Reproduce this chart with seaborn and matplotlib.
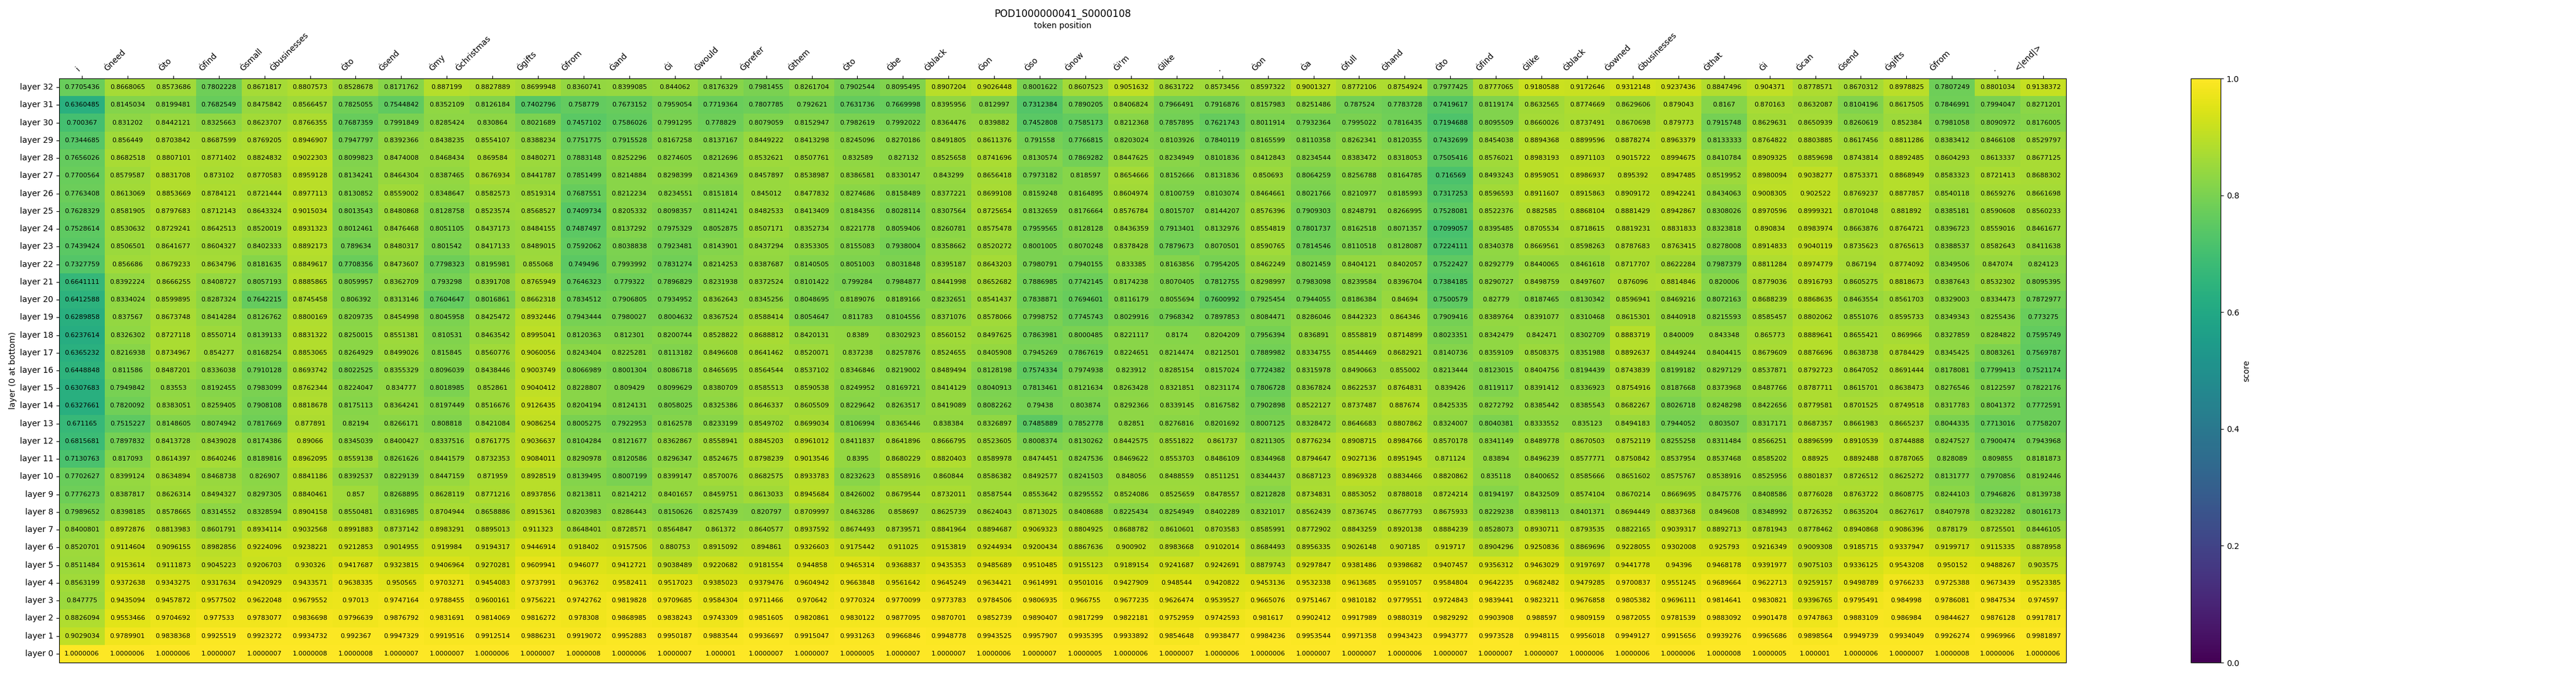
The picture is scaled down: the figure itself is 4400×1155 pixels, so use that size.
import numpy as np
import pandas as pd
import matplotlib
matplotlib.use("Agg")
import matplotlib.pyplot as plt
import seaborn as sns

title = "POD1000000041_S0000108"

tokens = ["i", "Ġneed", "Ġto", "Ġfind", "Ġsmall", "Ġbusinesses", "Ġto", "Ġsend", "Ġmy", "Ġchristmas", "Ġgifts",
          "Ġfrom", "Ġand", "Ġi", "Ġwould", "Ġprefer", "Ġthem", "Ġto", "Ġbe", "Ġblack", "Ġon", "Ġso", "Ġnow",
          "Ġi'm", "Ġlike", ".", "Ġon", "Ġa", "Ġfull", "Ġhand", "Ġto", "Ġfind", "Ġlike", "Ġblack", "Ġowned",
          "Ġbusinesses", "Ġthat", "Ġi", "Ġcan", "Ġsend", "Ġgifts", "Ġfrom", ".", "<|end|>"]

layer_32 = [.7705436, .8668065, .8573686, .7802228, .8671817, .8807573, .8528678, .8171762,
            .887199, .8827889, .8699948, .8360741, .8399085, .844062, .8176329, .7981455,
            .8261704, .7902544, .8095495, .8907204, .9026448, .8001622, .8607523, .9051632, .8631722,
            .8573456, .8597322, .9001327, .8772106, .8754924, .7977425, .8777065, .9180588, .9172646,
            .9312148, .9237436, .8847496, .904371, .8778571, .8670312, .8978825, .7807249, .8801034, .9138372]
layer_31 = [.6360485, .8145034, .8199481, .7682549, .8475842, .8566457, .7825055, .7544842,
            .8352109, .8126184, .7402796, .758779, .7673152, .7959054, .7719364, .7807785,
            .792621, .7631736, .7669998, .8395956, .812997, .7312384, .7890205, .8406824, .7966491,
            .7916876, .8157983, .8251486, .787524, .7783728, .7419617, .8119174, .8632565, .8774669,
            .8629606, .879043, .8167, .870163, .8632087, .8104196, .8617505, .7846991, .7994047, .8271201]
layer_30 = [.700367, .831202, .8442121, .8325663, .8623707, .8766355, .7687359, .7991849,
            .8285424, .830864, .8021689, .7457102, .7586026, .7991295, .778829, .8079059,
            .8152947, .7982619, .7992022, .8364476, .839882, .7452808, .7585173, .8212368, .7857895,
            .7621743, .8011914, .7932364, .7995022, .7816435, .7194688, .8095509, .8660026, .8737491,
            .8670698, .879773, .7915748, .8629631, .8650939, .8260619, .852384, .7981058, .8090972, .8176005]
layer_29 = [.7344685, .856449, .8703842, .8687599, .8769205, .8946907, .7947797, .8392366,
            .8438235, .8554107, .8388234, .7751775, .7915528, .8167258, .8137167, .8449222,
            .8413298, .8245096, .8270186, .8491805, .8611376, .791558, .7766815, .8203024, .8103926,
            .7840119, .8165599, .8110358, .8262341, .8120355, .7432699, .8454038, .8894368, .8899596,
            .8878274, .8963379, .8133333, .8764822, .8803885, .8617456, .8811286, .8383412, .8466108, .8529797]
layer_28 = [.7656026, .8682518, .8807101, .8771402, .8824832, .9022303, .8099823, .8474008,
            .8468434, .869584, .8480271, .7883148, .8252296, .8274605, .8212696, .8532621,
            .8507761, .832589, .827132, .8525658, .8741696, .8130574, .7869282, .8447625, .8234949,
            .8101836, .8412843, .8234544, .8383472, .8318053, .7505416, .8576021, .8983193, .8971103,
            .9015722, .8994675, .8410784, .8909325, .8859698, .8743814, .8892485, .8604293, .8613337, .8677125]
layer_27 = [.7700564, .8579587, .8831708, .873102, .8770583, .8959128, .8134241, .8464304,
            .8387465, .8676934, .8441787, .7851499, .8214884, .8298399, .8214369, .8457897,
            .8538987, .8386581, .8330147, .843299, .8656418, .7973182, .818597, .8654666, .8152666,
            .8131836, .850693, .8064259, .8256788, .8164785, .716569, .8493243, .8959051, .8986937,
            .895392, .8947485, .8519952, .8980094, .9038277, .8753371, .8868949, .8583323, .8721413, .8688302]
layer_26 = [.7763408, .8613069, .8853669, .8784121, .8721444, .8977113, .8130852, .8559002,
            .8348647, .8582573, .8519314, .7687551, .8212234, .8234551, .8151814, .845012,
            .8477832, .8274686, .8158489, .8377221, .8699108, .8159248, .8164895, .8604974, .8100759,
            .8103074, .8464661, .8021766, .8210977, .8185993, .7317253, .8596593, .8911607, .8915863,
            .8909172, .8942241, .8434063, .9008305, .902522, .8769237, .8877857, .8540118, .8659276, .8661698]
layer_25 = [.7628329, .8581905, .8797683, .8712143, .8643324, .9015034, .8013543, .8480868,
            .8128758, .8523574, .8568527, .7409734, .8205332, .8098357, .8114241, .8482533,
            .8413409, .8184356, .8028114, .8307564, .8725654, .8132659, .8176664, .8576784, .8015707,
            .8144207, .8576396, .7909303, .8248791, .8266995, .7528081, .8522376, .882585, .8868104,
            .8881429, .8942867, .8308026, .8970596, .8999321, .8701048, .881892, .8385181, .8590608, .8560233]
layer_24 = [.7528614, .8530632, .8729241, .8642513, .8520019, .8931323, .8012461, .8476468,
            .8051105, .8437173, .8484155, .7487497, .8137292, .7975329, .8052875, .8507171,
            .8352734, .8221778, .8059406, .8260781, .8575478, .7959565, .8128128, .8436359, .7913401,
            .8132976, .8554819, .7801737, .8162518, .8071357, .7099057, .8395485, .8705534, .8718615,
            .8819231, .8831833, .8323818, .890834, .8983974, .8663876, .8764721, .8396723, .8559016, .8461677]
layer_23 = [.7439424, .8506501, .8641677, .8604327, .8402333, .8892173, .789634, .8480317,
            .801542, .8417133, .8489015, .7592062, .8038838, .7923481, .8143901, .8437294, .8353305, .8155083, .7938004, .8358662,
            .8520272, .8001005, .8070248, .8378428, .7879673, .8070501, .8590765, .7814546, .8110518, .8128087, .7224111, .8340378,
            .8669561, .8598263, .8787683, .8763415, .8278008, .8914833, .9040119, .8735623, .8765613, .8388537, .8582643, .8411638]
layer_22 = [.7327759, .856686, .8679233, .8634796, .8181635, .8849617, .7708356, .8473607,
            .7798323, .8195981, .855068, .749496, .7993992, .7831274, .8214253, .8387687, .8140505, .8051003, .8031848, .8395187,
            .8643203, .7980791, .7940155, .833385, .8163856, .7954205, .8462249, .8021459, .8404121, .8402057, .7522427, .8292779,
            .8440065, .8461618, .8717707, .8622284, .7987379, .8811284, .8974779, .867194, .8774092, .8349506, .847074, .824123]
layer_21 = [.6641111, .8392224, .8666255, .8408727, .8057193, .8885865, .8059957, .8362709,
            .793298, .8391708, .8765949, .7646323, .779322, .7896829, .8231938, .8372524, .8101422, .799284, .7984877, .8441998,
            .8652682, .7886985, .7742145, .8174238, .8070405, .7812755, .8298997, .7983098, .8239584, .8396704, .7384185, .8290727,
            .8498759, .8497607, .876096, .8814846, .820006, .8779036, .8916793, .8605275, .8818673, .8387643, .8532302, .8095395]
layer_20 = [.6412588, .8334024, .8599895, .8287324, .7642215, .8745458, .806392, .8313146,
            .7604647, .8016861, .8662318, .7834512, .7906805, .7934952, .8362643, .8345256, .8048695, .8189076, .8189166, .8232651,
            .8541437, .7838871, .7694601, .8116179, .8055694, .7600992, .7925454, .7944055, .8186384, .84694, .7500579, .82779,
            .8187465, .8130342, .8596941, .8469216, .8072163, .8688239, .8868635, .8463554, .8561703, .8329003, .8334473, .7872977]
layer_19 = [.6289858, .837567, .8673748, .8414284, .8126762, .8800169, .8209735, .8454998,
            .8045958, .8425472, .8932446, .7943444, .7980027, .8004632, .8367524, .8588414, .8054647, .811783, .8104556, .8371076,
            .8578066, .7998752, .7745743, .8029916, .7968342, .7897853, .8084471, .8286046, .8442323, .864346, .7909416, .8389764,
            .8391077, .8310468, .8615301, .8440918, .8215593, .8585457, .8802062, .8551076, .8595733, .8349343, .8255436, .773275]
layer_18 = [.6237614, .8326302, .8727118, .8550714, .8139133, .8831322, .8250015, .8551381,
            .810531, .8463542, .8995041, .8120363, .812301, .8200744, .8528822, .8688812, .8420131, .8389, .8302923, .8560152,
            .8497625, .7863981, .8000485, .8221117, .8174, .8204209, .7956394, .836891, .8558819, .8714899, .8023351, .8342479,
            .842471, .8302709, .8883719, .840009, .843348, .865773, .8889641, .8655421, .869966, .8327859, .8284822, .7595749]
layer_17 = [.6365232, .8216938, .8734967, .854277, .8168254, .8853065, .8264929, .8499026,
            .815845, .8560776, .9060056, .8243404, .8225281, .8113182, .8496608, .8641462, .8520071, .837238, .8257876, .8524655,
            .8405908, .7945269, .7867619, .8224651, .8214474, .8212501, .7889982, .8334755, .8544469, .8682921, .8140736, .8359109,
            .8508375, .8351988, .8892637, .8449244, .8404415, .8679609, .8876696, .8638738, .8784429, .8345425, .8083261, .7569787]
layer_16 = [.6448848, .811586, .8487201, .8336038, .7910128, .8693742, .8022525, .8355329,
            .8096039, .8438446, .9003749, .8066989, .8001304, .8086718, .8465695, .8564544, .8537102, .8346846, .8219002, .8489494,
            .8128198, .7574334, .7974938, .823912, .8285154, .8157024, .7724382, .8315978, .8490663, .855002, .8213444, .8123015,
            .8404756, .8194439, .8743839, .8199182, .8297129, .8537871, .8792723, .8647052, .8691444, .8178081, .7799413, .7521174]
layer_15 = [.6307683, .7949842, .83553, .8192455, .7983099, .8762344, .8224047, .834777,
            .8018985, .852861, .9040412, .8228807, .809429, .8099629, .8380709, .8585513, .8590538, .8249952, .8169721, .8414129,
            .8040913, .7813461, .8121634, .8263428, .8321851, .8231174, .7806728, .8367824, .8622537, .8764831, .839426, .8119117,
            .8391412, .8336923, .8754916, .8187668, .8373968, .8487766, .8787711, .8615701, .8638473, .8276546, .8122597, .7822176]
layer_14 = [.6327661, .7820092, .8383051, .8259405, .7908108, .8818678, .8175113, .8364241,
            .8197449, .8516676, .9126435, .8204194, .8124131, .8058025, .8325386, .8646337, .8605509, .8229642, .8263517, .8419089,
            .8082262, .79438, .803874, .8292366, .8339145, .8167582, .7902898, .8522127, .8737487, .887674, .8425335, .8272792,
            .8385442, .8385543, .8682267, .8026718, .8248298, .8422656, .8779581, .8701525, .8749518, .8317783, .8041372, .7772591]
layer_13 = [.671165, .7515227, .8148605, .8074942, .7817669, .877891, .82194, .8266171,
            .808818, .8421084, .9086254, .8005275, .7922953, .8162578, .8233199, .8549702, .8699034, .8106994, .8365446, .838384,
            .8326897, .7485889, .7852778, .82851, .8276816, .8201692, .8007125, .8328472, .8646683, .8807862, .8324007, .8040381,
            .8333552, .835123, .8494183, .7944052, .803507, .8317171, .8687357, .8661983, .8665237, .8044335, .7713016, .7758207]
layer_12 = [.6815681, .7897832, .8413728, .8439028, .8174386, .89066, .8345039, .8400427,
            .8337516, .8761775, .9036637, .8104284, .8121677, .8362867, .8558941, .8845203, .8961012, .8411837, .8641896, .8666795,
            .8523605, .8008374, .8130262, .8442575, .8551822, .861737, .8211305, .8776234, .8908715, .8984766, .8570178, .8341149,
            .8489778, .8670503, .8752119, .8255258, .8311484, .8566251, .8896599, .8910539, .8744888, .8247527, .7900474, .7943968]
layer_11 = [.7130763, .817093, .8614397, .8640246, .8189816, .8962095, .8559138, .8261626,
            .8441579, .8732353, .9084011, .8290978, .8120586, .8296347, .8524675, .8798239, .9013546, .8395, .8680229, .8820403,
            .8589978, .8474451, .8247536, .8469622, .8553703, .8486109, .8344968, .8794647, .9027136, .8951945, .871124, .83894,
            .8496239, .8577771, .8750842, .8537954, .8537468, .8585202, .88925, .8892488, .8787065, .828089, .809855, .8181873]
layer_10 = [.7702627, .8399124, .8634894, .8468738, .826907, .8841186, .8392537, .8229139,
            .8447159, .871959, .8928519, .8139495, .8007199, .8399147, .8570076, .8682575, .8933783, .8232623, .8558916, .860844,
            .8586382, .8492577, .8241503, .848056, .8488559, .8511251, .8344437, .8687123, .8969328, .8834466, .8820862, .835118,
            .8400652, .8585666, .8651602, .8575767, .8538916, .8525956, .8801837, .8726512, .8625272, .8131777, .7970856, .8192446]
layer_9 = [.7776273, .8387817, .8626314, .8494327, .8297305, .8840461, .857, .8268895,
           .8628119, .8771216, .8937856, .8213811, .8214212, .8401657, .8459751, .8613033, .8945684, .8426002, .8679544, .8732011,
           .8587544, .8553642, .8295552, .8524086, .8525659, .8478557, .8212828, .8734831, .8853052, .8788018, .8724214, .8194197,
           .8432509, .8574104, .8670214, .8669695, .8475776, .8408586, .8776028, .8763722, .8608775, .8244103, .7946826, .8139738]
layer_8 = [.7989652, .8398185, .8578665, .8314552, .8328594, .8904158, .8550481, .8316985,
           .8704944, .8658886, .8915361, .8203983, .8286443, .8150626, .8257439, .820797, .8709997, .8463286, .858697, .8625739,
           .8624043, .8713025, .8408688, .8225434, .8254949, .8402289, .8321017, .8562439, .8736745, .8677793, .8675933, .8229238,
           .8398113, .8401371, .8694449, .8837368, .849608, .8348992, .8726352, .8635204, .8627617, .8407978, .8232282, .8016173]
layer_7 = [.8400801, .8972876, .8813983, .8601791, .8934114, .9032568, .8991883, .8737142,
           .8983291, .8895013, .911323, .8648401, .8728571, .8564847, .861372, .8640577, .8937592, .8674493, .8739571, .8841964,
           .8894687, .9069323, .8804925, .8688782, .8610601, .8703583, .8585991, .8772902, .8843259, .8920138, .8884239, .8528073,
           .8930711, .8793535, .8822165, .9039317, .8892713, .8781943, .8778462, .8940868, .9086396, .878179, .8725501, .8446105]
layer_6 = [.8520701, .9114604, .9096155, .8982856, .9224096, .9238221, .9212853, .9014955,
           .919984, .9194317, .9446914, .918402, .9157506, .880753, .8915092, .894861, .9326603, .9175442, .911025, .9153819,
           .9244934, .9200434, .8867636, .900902, .8983668, .9102014, .8684493, .8956335, .9026148, .907185, .919717, .8904296,
           .9250836, .8869696, .9228055, .9302008, .925793, .9216349, .9009308, .9185715, .9337947, .9199717, .9115335, .8878958]
layer_5 = [.8511484, .9153614, .9111873, .9045223, .9206703, .930326, .9417687, .9323815,
           .9406964, .9270281, .9609941, .946077, .9412721, .9038489, .9220682, .9181554, .944858, .9465314, .9368837, .9435353,
           .9485689, .9510485, .9155123, .9189154, .9241687, .9242691, .8879743, .9297847, .9381486, .9398682, .9407457, .9356312,
           .9463029, .9197697, .9441778, .94396, .9468178, .9391977, .9075103, .9336125, .9543208, .950152, .9488267, .903575]
layer_4 = [.8563199, .9372638, .9343275, .9317634, .9420929, .9433571, .9638335, .950565,
           .9703271, .9454083, .9737991, .963762, .9582411, .9517023, .9385023, .9379476, .9604942, .9663848, .9561642, .9645249,
           .9634421, .9614991, .9501016, .9427909, .948544, .9420822, .9453136, .9532338, .9613685, .9591057, .9584804, .9642235,
           .9682482, .9479285, .9700837, .9551245, .9689664, .9622713, .9259157, .9498789, .9766233, .9725388, .9673439, .9523385]
layer_3 = [.847775, .9435094, .9457872, .9577502, .9622048, .9679552, .97013, .9747164,
           .9788455, .9600161, .9756221, .9742762, .9819828, .9709685, .9584304, .9711466, .970642, .9770324, .9770099, .9773783,
           .9784506, .9806935, .966755, .9677235, .9626474, .9539527, .9665076, .9751467, .9810182, .9779551, .9724843, .9839441,
           .9823211, .9676858, .9805382, .9696111, .9814641, .9830821, .9396765, .9795491, .984998, .9786081, .9847534, .974597]
layer_2 = [.8826094, .9553466, .9704692, .977533, .9783077, .9836698, .9796639, .9876792,
           .9831691, .9814069, .9816272, .978308, .9868985, .9838243, .9743309, .9851605, .9820861, .9830122, .9877095, .9870701,
           .9852739, .9890407, .9817299, .9822181, .9752959, .9742593, .981617, .9902412, .9917989, .9880319, .9829292, .9903908,
           .988597, .9809159, .9872055, .9781539, .9883092, .9901478, .9747863, .9883109, .986984, .9844627, .9876128, .9917817]
layer_1 = [.9029034, .9789901, .9838368, .9925519, .9923272, .9934732, .992367, .9947329,
           .9919516, .9912514, .9886231, .9919072, .9952883, .9950187, .9883544, .9936697, .9915047, .9931263, .9966846, .9948778,
           .9943525, .9957907, .9935395, .9933892, .9854648, .9938477, .9984236, .9953544, .9971358, .9943423, .9943777, .9973528,
           .9948115, .9956018, .9949127, .9915656, .9939276, .9965686, .9898564, .9949739, .9934049, .9926274, .9969966, .9981897]
layer_0 = [1.0000006, 1.0000006, 1.0000006, 1.0000007, 1.0000007, 1.0000008, 1.0000008, 1.0000007,
           1.0000007, 1.0000006, 1.0000007, 1.0000008, 1.0000006, 1.0000007, 1.000001, 1.0000007, 1.0000007, 1.0000005, 1.0000007, 1.0000007,
           1.0000006, 1.0000007, 1.0000005, 1.0000006, 1.0000007, 1.0000006, 1.0000006, 1.0000007, 1.0000007, 1.0000006, 1.0000007, 1.0000007,
           1.0000007, 1.0000006, 1.0000006, 1.0000006, 1.0000008, 1.0000005, 1.000001, 1.0000006, 1.0000007, 1.0000008, 1.0000006, 1.0000006]

rows = [layer_32, layer_31, layer_30, layer_29, layer_28, layer_27, layer_26, layer_25, layer_24, layer_23, layer_22,
        layer_21, layer_20, layer_19, layer_18, layer_17, layer_16, layer_15, layer_14, layer_13, layer_12, layer_11,
        layer_10, layer_9, layer_8, layer_7, layer_6, layer_5, layer_4, layer_3, layer_2, layer_1, layer_0]
layer_names = ["layer " + str(n) for n in range(32, -1, -1)]

scores = pd.DataFrame(rows, index=layer_names)

# cell text is the plain float, not a fixed number of digits
cell_text = [[f"{v:.7f}".rstrip("0") for v in row] for row in rows]

fig = plt.figure(figsize=(44, 11.55), dpi=100)
ax = fig.add_axes([101 / 4400, 1 - 1132 / 1155, (3529 - 101) / 4400, (1132 - 134) / 1155])
cbar_ax = fig.add_axes([3742 / 4400, 1 - 1132 / 1155, (3793 - 3742) / 4400, (1132 - 134) / 1155])

sns.heatmap(scores, ax=ax, cbar_ax=cbar_ax, cmap="viridis", vmin=0, vmax=1,
            annot=np.array(cell_text), fmt="", annot_kws={"size": 8, "color": "black"},
            xticklabels=tokens, yticklabels=layer_names,
            cbar_kws={"label": "score"})

ax.xaxis.tick_top()
ax.xaxis.set_label_position("top")
plt.setp(ax.get_xticklabels(), rotation=45, ha="right")
plt.setp(ax.get_yticklabels(), rotation=0)
ax.set_xlabel("token position")
ax.set_ylabel("layer (0 at bottom)")
ax.set_title(title, fontsize=12)

for spine in ax.spines.values():
    spine.set_visible(True)
ax.collections[0].colorbar.outline.set_linewidth(0.8)

fig.savefig("out.png", dpi=100)
